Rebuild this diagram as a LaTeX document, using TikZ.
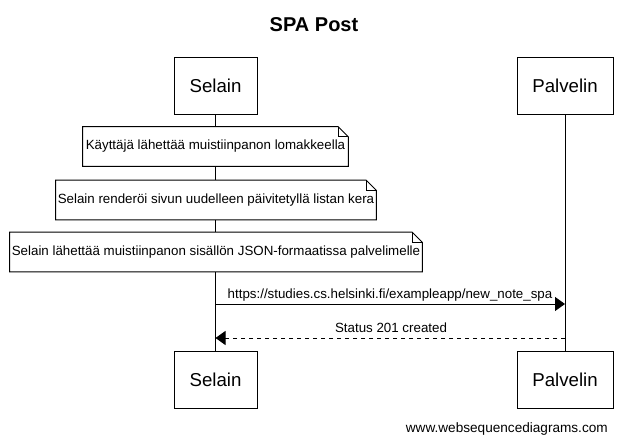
\documentclass[tikz,border=0pt]{standalone}
\usepackage{fontspec}
\setmainfont{Liberation Sans}
\usetikzlibrary{arrows.meta,calc}
\begin{document}
\begin{tikzpicture}[x=0.75pt,y=-0.75pt,
  participant/.style={draw=black,line width=0.75pt,fill=white,minimum height=42.75pt,inner sep=0pt,font=\fontsize{14}{16}\selectfont},
  notetext/.style={inner sep=0pt,minimum height=29.25pt,font=\fontsize{10}{12}\selectfont},
  notebox/.style={draw=black,line width=0.75pt,fill=white},
  lifeline/.style={draw=black,line width=0.75pt},
  msg/.style={line width=0.75pt,-{Triangle[length=7.5pt,width=10.5pt]}},
  reply/.style={msg,dash pattern=on 3pt off 3pt},
  msglabel/.style={font=\fontsize{10}{12}\selectfont,inner sep=0pt}
]
\useasboundingbox (0,0) rectangle (628,443);
\fill[white] (0,0) rectangle (628,443);
\node[font=\bfseries\fontsize{15}{18}\selectfont] (title) at (314,25) {SPA Post};
% participants
\node[participant,minimum width=62.25pt] (s1) at (215.5,85.5) {Selain};
\node[participant,minimum width=72pt] (p1) at (565,85.5) {Palvelin};
\node[participant,minimum width=62.25pt] (s2) at (215.5,379.5) {Selain};
\node[participant,minimum width=72pt] (p2) at (565,379.5) {Palvelin};
% lifelines
\draw[lifeline] (s1.south) -- (s2.north);
\draw[lifeline] (p1.south) -- (p2.north);
% notes
\newcommand{\wsdnote}[4]{%
  \node[notetext,minimum width=#2] (#1) at #3 {#4};
  \draw[notebox] (#1.south west) -- (#1.north west) -- ($(#1.north east)+(-10,0)$) -- ($(#1.north east)+(0,10)$) -- (#1.south east) -- cycle;
  \draw[line width=0.75pt] ($(#1.north east)+(-10,0)$) -- ($(#1.north east)+(-10,10)$) -- ($(#1.north east)+(0,10)$);
  \node[notetext,minimum width=#2] at (#1) {#4};
}
\wsdnote{n1}{198.75pt}{(215.5,146.5)}{Käyttäjä lähettää muistiinpanon lomakkeella}
\wsdnote{n2}{240pt}{(216,200)}{Selain renderöi sivun uudelleen päivitetyllä listan kera}
\wsdnote{n3}{309pt}{(216,252)}{Selain lähettää muistiinpanon sisällön JSON-formaatissa palvelimelle}
% messages
\coordinate (m1s) at (s1.south |- 0,304);
\coordinate (m1p) at (p1.south |- 0,304);
\coordinate (m2s) at (s1.south |- 0,338);
\coordinate (m2p) at (p1.south |- 0,338);
\draw[msg] (m1s) -- (m1p);
\node[msglabel] (l1) at (390,295) {https://studies.cs.helsinki.fi/exampleapp/new\_note\_spa};
\draw[reply] (m2p) -- (m2s);
\node[msglabel] (l2) at (391,328) {Status 201 created};
% watermark
\node[font=\fontsize{10.2}{12}\selectfont,anchor=east,inner sep=0pt] (wm) at (608,429) {www.websequencediagrams.com};
\end{tikzpicture}
\end{document}
